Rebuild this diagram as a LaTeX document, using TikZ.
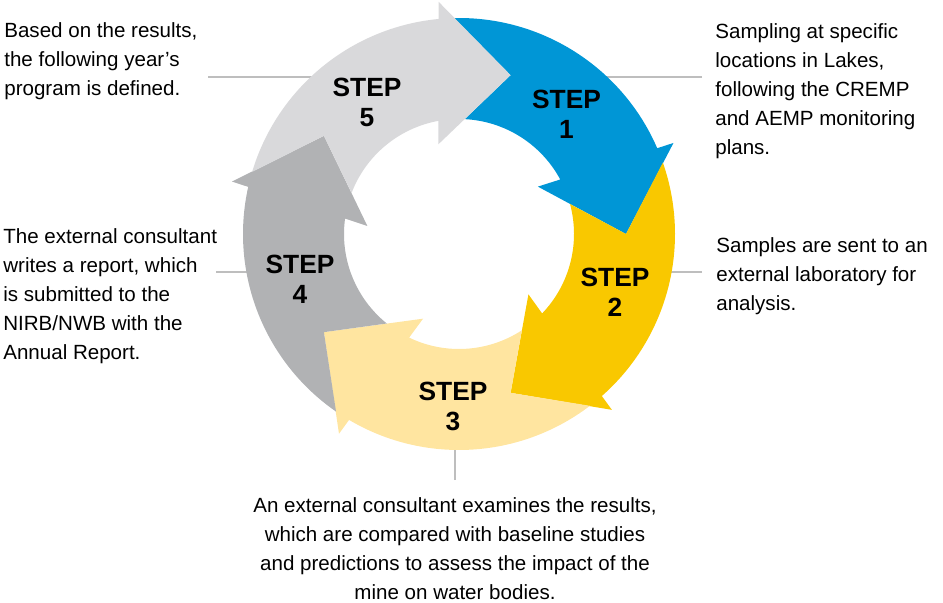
\documentclass[tikz,border=0pt]{standalone}
\usepackage{fontspec}
\setmainfont{Liberation Sans}
\usetikzlibrary{positioning}
\definecolor{stepblue}{RGB}{0,150,214}
\definecolor{stepyellow}{RGB}{249,200,0}
\definecolor{steppale}{RGB}{255,229,160}
\definecolor{stepgrey}{RGB}{177,178,180}
\definecolor{steplight}{RGB}{217,217,219}
\definecolor{leadergrey}{RGB}{190,190,190}
\tikzset{
  leader/.style={draw=leadergrey,line width=0.05cm},
  note/.style={inner sep=0pt,align=left,font=\fontsize{11.7}{16.5}\selectfont},
  steplabel/.style={inner sep=0pt,align=center,anchor=north,font=\fontsize{15}{16.8}\selectfont\bfseries}
}
\begin{document}
\begin{tikzpicture}[x=0.02cm,y=0.02cm]
  \useasboundingbox (0,0) rectangle (943,602);
  \node[note,anchor=north west] (t5) at (4,580) {Based on the results,\\the following year’s\\program is defined.};
  \node[note,anchor=north west] (t1) at (715,579) {Sampling at specific\\locations in Lakes,\\following the CREMP\\and AEMP monitoring\\plans.};
  \node[note,anchor=north west] (t2) at (716,365) {Samples are sent to an\\external laboratory for\\analysis.};
  \node[note,anchor=north west] (t4) at (3,374) {The external consultant\\writes a report, which\\is submitted to the\\NIRB/NWB with the\\Annual Report.};
  \node[note,anchor=north,align=center] (t3) at (455,105) {An external consultant examines the results,\\which are compared with baseline studies\\and predictions to assess the impact of the\\mine on water bodies.};
  \coordinate (a5) at (208,525);  \coordinate (b5) at (330,525);
  \coordinate (a1) at (702,525);  \coordinate (b1) at (590,525);
  \coordinate (a2) at (702,330);  \coordinate (b2) at (650,330);
  \coordinate (a4) at (216,330);  \coordinate (b4) at (270,330);
  \coordinate (a3) at (455,122);  \coordinate (b3) at (455,170);
  \foreach \n in {1,...,5}
    \draw[leader] (a\n) -- (b\n);
  \begin{scope}[shift={(459,368)}]
    \foreach \t/\c in {0/stepblue,-72/stepyellow,-144/steppale,144/stepgrey,72/steplight}
      \fill[\c] ({\t+91.3}:216) arc[start angle=\t+91.3,end angle=\t+23.4,radius=216]
        -- ({\t+23}:233) -- (\t:167) -- ({\t+31}:92) -- ({\t+28.3}:115)
        arc[start angle=\t+28.3,end angle=\t+87.1,radius=115] -- ({\t+72}:167) -- cycle;
  \end{scope}
  \node[steplabel] (s1) at (566.5,512) {STEP\\1};
  \node[steplabel] (s2) at (615,334) {STEP\\2};
  \node[steplabel] (s3) at (453,220) {STEP\\3};
  \node[steplabel] (s4) at (300,347) {STEP\\4};
  \node[steplabel] (s5) at (367,524) {STEP\\5};
\end{tikzpicture}
\end{document}
